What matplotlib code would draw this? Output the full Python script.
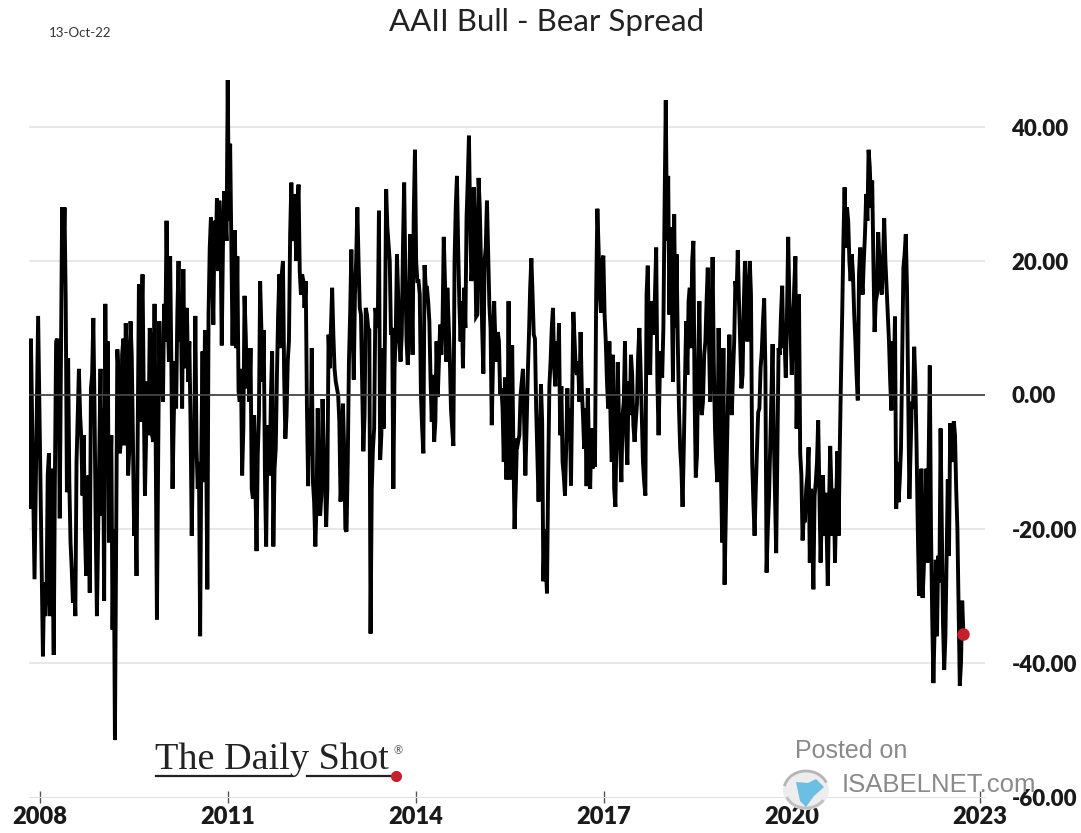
import pandas as pd
import matplotlib
matplotlib.use("Agg")
import matplotlib.pyplot as plt
import matplotlib.dates as mdates
from matplotlib.patches import Ellipse, Polygon, Arc

# weeks counted from the first reading of 2008
weeks_2008 = [-10, -9, -8, -5, -2, 2, 4, 7, 8, 9, 11, 13, 14, 16, 18, 20, 21, 22, 23, 24, 25, 29, 32, 34, 35, 36, 38, 40, 41, 42,
              44, 47, 48, 50, 53, 54, 57, 59, 60, 62, 64, 66, 69, 70, 71, 73, 75, 77, 78, 80, 82, 85, 87, 88, 89, 92, 93, 95, 97, 99,
              101, 103, 105, 107, 108, 110, 112, 115, 118, 119, 120, 122, 124, 126, 127, 129, 133, 135, 136, 137, 139, 142, 144, 147, 148, 149, 151, 153, 155, 156,
              158, 159, 160, 162, 164, 165, 167, 168, 170, 172, 175, 177, 178, 180, 182, 183, 186, 188, 190, 193]
spread_2008 = [6.1, -17, 8.4, -27.5, 11.8, -39, -33, -8.7, -33, -11, -38.8, 8, 8.4, -18.4, 28, 28, 14, -14.5, 5.5, -13, -22, -33, 3.9, -6.5, -15, -6, -27, -12, -29.5, 1,
               11.5, -33, -21, 3.9, -30.7, 13.6, -22, -6, -35, -51.5, 6.8, -8.7, 8.4, -7.5, 10.7, -12, 11, -6.5, -21, -27, 16.5, 18, -15, -6, 2, 8, -6, 13.6, -33.5, 11,
               5, 13.6, 26, 5, 20.7, -14, 5, 20, -2, 18.8, 4, 13, 8, -21, -8.5, 11.8, -36, 6.5, -13, 9.7, -29, 26.5, 10.5, 29.4, 18.5, 29, 7.4, 30.4, 23, 47,
               37.5, 23, 7.4, 24.6, 20.7, 0.6, 3.9, -12, 14.8, 1, 7, -15.5, -3, -23.3, -3, 17, 9.7, -22.6, -4.5, 6.5]
fill_weeks_2008 = [3, 5, 6, 10, 12, 15, 17, 19, 26, 27, 28, 30, 31, 33, 37, 39, 43, 45, 46, 51, 52, 55, 56, 58, 61, 65, 67, 68, 72, 74, 76, 79, 81, 83, 84, 86, 90, 91, 94, 96,
                   98, 100, 102, 104, 106, 109, 111, 113, 114, 116, 117, 121, 123, 125, 128, 130, 131, 132, 134, 138, 140, 141, 143, 145, 146, 150, 152, 154, 157, 161, 163, 166, 169, 171, 173, 174, 176, 179, 181, 184, 185, 187, 189, 191, 192]
fill_spread_2008 = [-28, -30, -12, -25, -12, 5, 5, 20, -26, -31, -26, -10, -3, -3, -20, -22, 3, -2, -20, -18, -2, -8, 8, -15, -20, 3, -7, 6, 6, -8, 6, -15, -5, -4, 10, 0, -6, 10, -7, -8,
                    -10, 0, -1, 8, 12, 5, -4, -2, 12, 8, 12, 8, 2, -4, -9, -8, -14, -10, -8, -7, 12, 22, 19, 26, 20, 24, 22, 27, 26, 19, 7, -1, -5, 9, 7, -1, -14, -13, -9, 10, 2, -12, -8, -12, 0]

weeks_2011 = [194, 197, 199, 202, 204, 206, 209, 211, 215, 216, 218, 220, 221, 223, 226, 229, 231, 233, 235, 238, 240, 243, 245, 248, 250, 252, 255, 259, 261, 264,
              266, 269, 271, 274, 275, 279, 282, 283, 286, 288, 290, 293, 294, 297, 300, 303, 306, 308, 312, 314, 319, 320, 323, 325, 328, 330, 331, 333, 336, 339,
              344, 347, 349, 352, 355, 357, 359, 361, 363, 365, 369, 372, 374, 376, 378, 381, 383, 387, 388, 390, 391, 393, 395, 397]
spread_2011 = [-22.6, 3, 18, 20, -6.5, 5, 31.7, 23, 31.4, 18.4, 18, 13, 17, -13.6, 7, -22.6, -2, -18, -0.6, -19.7, 9, 16, 3.9, 0, -15.9, -1.3, -20.4, 21.7, 2.3, 28,
               13, -8.4, 13, 9.7, -35.6, 13, 27.5, -9.7, -5, 30.7, 22.6, 10, -14, 21, 5, 31.7, 4.5, 24, 36.6, 17, -8.7, 19.4, 14, 2.3, -7, 8, -0.3, 10.5, 23.6, 16,
               -7.6, 32.7, 13.6, 4, 26.5, 38.7, 17, 31, 11.7, 32.4, 3.2, 29, 13.5, -4.5, 14, 9.4, 0, 2.6, -12.6, 14, -12.6, 7.4, -20, -6.5]
fill_weeks_2011 = [195, 196, 198, 200, 201, 203, 205, 207, 208, 210, 212, 213, 214, 217, 219, 222, 224, 225, 227, 228, 230, 232, 234, 236, 237, 239, 241, 242, 244, 246,
                   247, 249, 251, 253, 254, 256, 257, 258, 260, 262, 263, 265, 267, 268, 270, 272, 273, 276, 277, 278, 281, 284, 285, 287, 289, 291, 292, 295, 296, 298,
                   299, 301, 302, 304, 305, 307, 309, 310, 311, 313, 315, 316, 317, 318, 321, 322, 324, 326, 327, 329, 332, 334, 335, 337, 338, 340, 341, 342, 343, 345,
                   346, 348, 350, 351, 353, 354, 356, 358, 360, 362, 364, 366, 367, 368, 370, 371, 373, 375, 379, 380, 382, 384, 385, 386, 389, 392, 394, 396, 398, 399, 400, 401]
fill_spread_2011 = [-11, -8, 12, 7, 18, 3, -3, 8, 24, 24, 30, 20, 28, 15, 17, -2, -2, -9, -13, -16, -16, -17, -15, -8, -12, -14, 4, 10, 9, 2,
                    1, -4, -12, -8, -20, -10, 5, 12, 11, 15, 20, 20, 12, 2, -3, 12, 10, -14, -8, -5, 10, -6, 7, 9, 25, 20, 9, 4, 9, 15,
                    8, 9, 22, 18, 8, 12, 18, 6, 27, 20, 17, 15, 0, -5, 16, 16, 11, -4, 3, -4, 5, 6, 11, 17, 5, 11, 6, -2, -5, 20,
                    28, 22, 8, 14, 16, 10, 32, 26, 20, 25, 12, 28, 20, 10, 20, 22, 21, 10, 8, 5, 8, 1, -2, -10, -10, -10, -8, -14, -7, -6, 0, 2]

weeks_2015 = [402, 404, 407, 409, 412, 415, 417, 419, 422, 424, 427, 429, 432, 434, 437, 439, 442, 444, 447, 450, 452, 455, 456, 458, 462, 464, 467, 469, 473, 474,
              477, 479, 481, 484, 487, 489, 492, 494, 497, 499, 504, 506, 508, 510, 513, 515, 517, 518, 521, 522, 523, 527, 528, 530, 532, 535, 538, 541, 544, 546,
              549, 551, 556, 558, 560, 564, 565, 568, 569, 570, 574, 576, 579, 581, 584, 586, 587, 590, 591, 593, 595, 598]
spread_2015 = [3.9, -12, 9, 20.4, 8.4, -15.9, 1.6, -27.8, -29.6, 1.3, 13, 1.3, 10.7, 1.3, -15, 1, -13.5, 12.4, 3, 9.4, -3, -13.6, 1, -14, -10.7, 27.8, 12.3, 20.8, -2, 8,
               6, -16.7, 4.9, -13, 8, -10.4, 6, -4.5, -1.3, 10, -15, 19.3, 3, 13, 22, -6, 6.5, 2.6, 44, 23, 32.7, 2, 27, 21, -2, -16.7, 11, 16, 23, -12.3,
               14, -3, 19, -1, 20.6, -13, 10, -22, 7, -28.3, 9, -3, 17, 21.6, 1, 13.5, 20, 13.5, 20, -10, -21, -2.6]
fill_weeks_2015 = [403, 405, 406, 408, 410, 411, 413, 414, 416, 418, 420, 421, 423, 425, 426, 428, 430, 431, 433, 435, 436, 438, 440, 441, 443, 445, 446, 448, 449, 451,
                   453, 454, 457, 459, 460, 461, 463, 465, 466, 468, 470, 471, 472, 475, 476, 478, 480, 482, 483, 485, 486, 488, 490, 491, 493, 495, 496, 498, 500, 501,
                   502, 503, 505, 507, 509, 511, 512, 514, 516, 519, 520, 524, 525, 526, 529, 531, 533, 534, 536, 537, 539, 540, 542, 543, 545, 547, 548, 550, 552, 553,
                   554, 555, 557, 559, 561, 562, 563, 566, 567, 571, 572, 573, 575, 577, 578, 580, 582, 583, 585, 588, 589, 592, 594, 596, 597]
fill_spread_2015 = [-4, -5, 3, 16, 15, 9, -2, -9, -8, -4, -20, -25, -12, 5, 10, 4, 8, 3, -6, -10, -12, -8, -7, -2, 0, 8, 4, 5, -1, 1,
                    -8, -2, -8, -5, -11, -5, 15, 22, 15, 20, 12, 8, 2, -4, -10, -14, -5, -4, -8, -3, -1, -6, 2, -3, 3, -7, -4, 6, 4, -3,
                    -10, -13, 15, 8, 14, 9, 15, 2, 3, 10, 28, 12, 25, 15, 10, 8, -8, -11, -8, 2, 3, 14, 7, 20, 0, -9, 5, 0, -1, 6,
                    8, 14, 8, 10, 5, -5, -10, -3, -12, -18, -8, 1, 2, 3, 8, 15, 14, 8, 3, 14, 8, 15, -16, -14, -8]

weeks_2019 = [601, 603, 605, 607, 610, 613, 615, 618, 621, 623, 626, 629, 630, 632, 633, 635, 637, 640, 641, 644, 646, 648, 650, 654, 656, 658, 662, 664, 665, 667,
              670, 673, 675, 676, 681, 683, 685, 688, 690, 693, 695, 698, 701, 703, 706, 709, 712, 713, 716, 719, 721, 724, 726, 728, 732, 734, 735, 738, 741, 744,
              746, 750, 753, 755, 756, 758, 761, 764, 766, 768, 769]
spread_2019 = [6.5, 14.4, -26.5, -15.5, 7.6, -23.6, 7, 16.3, 2.6, 23.6, 3, 20.7, -5, 15, -8.7, -21.7, -19, -7.8, -25, -29, -13, -3.8, -25, -14.6, -28.5, -7.6, -25, -8.4, -21, 2.6,
               31, 26, 17, 21, -0.8, 22, 15, 30, 36.6, 32, 9.4, 24.3, 15, 26.4, 12, -2.3, 11.7, -17, -12.6, 19, 24, -15.5, -1, 7.2, -30, -11, -30.3, -11, 4.4, -43,
               -24.6, -5, -41, -24, -12.6, -4.2, -3.9, -20, -43.4, -30.7, -35.6]
fill_weeks_2019 = [599, 600, 602, 604, 606, 608, 609, 611, 612, 614, 616, 617, 619, 620, 622, 624, 625, 627, 628, 631, 634, 636, 638, 639, 642, 643, 645, 647, 649, 651,
                   652, 653, 655, 657, 659, 660, 661, 663, 666, 668, 669, 671, 672, 674, 677, 678, 679, 680, 682, 684, 686, 687, 689, 691, 692, 694, 696, 697, 699, 700,
                   702, 704, 705, 707, 708, 710, 711, 714, 715, 717, 718, 720, 722, 723, 725, 727, 729, 730, 731, 733, 736, 737, 739, 740, 742, 743, 745, 747, 748, 749,
                   751, 752, 754, 757, 759, 760, 762, 763, 765, 767]
fill_spread_2019 = [-2, 4, 11, 4, -20, -8, 0, -6, -15, -8, 6, 12, 7, 8, 12, 14, 9, 10, 16, 6, -12, -18, -14, -12, -14, -20, -15, -10, -14, -18,
                    -12, -21, -20, -17, -14, -21, -14, -16, -8, 12, 23, 22, 28, 20, 18, 12, 8, 3, 18, 18, 20, 24, 26, 34, 28, 20, 14, 15, 20, 16,
                    20, 20, 16, 8, 2, 8, 3, -10, -16, -8, 5, 21, 16, 0, -8, -2, 2, -8, -20, -23, -26, -18, -25, -10, -20, -33, -35, -36, -24, -28,
                    -20, -34, -36, -24, -10, -8, -6, -14, -32, -40]

year_ticks = ["2008", "2011", "2014", "2017", "2020", "2023"]
value_ticks = [40, 20, 0, -20, -40, -60]

df = pd.DataFrame({
    'week': weeks_2008 + fill_weeks_2008 + weeks_2011 + fill_weeks_2011 + weeks_2015 + fill_weeks_2015 + weeks_2019 + fill_weeks_2019,
    'spread': spread_2008 + fill_spread_2008 + spread_2011 + fill_spread_2011 + spread_2015 + fill_spread_2015 + spread_2019 + fill_spread_2019,
})
df = df.sort_values('week', kind='stable').reset_index(drop=True)
start = pd.Timestamp("2008-01-03")
df['date'] = start + pd.to_timedelta(df['week'] * 7, unit="D")

W, H = 1081, 833
plt.rcParams['font.family'] = ['Lato', 'DejaVu Sans']

fig = plt.figure(figsize=(W / 100, H / 100), dpi=100)
ax = fig.add_axes([29 / W, 1 - 797 / H, 956 / W, 723.6 / H])

ax.plot(df['date'], df['spread'], color='black', lw=2.8, solid_joinstyle='miter', zorder=3)
ax.plot(df['date'].iloc[-1], df['spread'].iloc[-1], 'o', color='#c4202e', ms=8, zorder=4)

ax.axhline(0, color='#444444', lw=1.3, zorder=4)
for v in value_ticks:
    if v != 0 and v != -60:
        ax.axhline(v, color='#e2e2e2', lw=1.1, zorder=1)

ax.set_ylim(-60, 48)
ax.set_xlim(start - pd.Timedelta(weeks=9.6), start + pd.Timedelta(weeks=787))
ax.set_xticks([pd.Timestamp(y + "-01-01") for y in year_ticks])
ax.xaxis.set_major_formatter(mdates.DateFormatter('%Y'))
ax.set_yticks(value_ticks)
ax.set_yticklabels(['%.2f' % v for v in value_ticks], ha='left')
ax.yaxis.tick_right()

ax.tick_params(axis='x', direction='inout', length=9, width=1, color='#555555', labelsize=17, pad=2)
ax.tick_params(axis='y', length=0, labelsize=16, pad=19)
for label in ax.get_xticklabels() + ax.get_yticklabels():
    label.set_fontweight('heavy')
    label.set_color('#1a1a1a')

for side in ['top', 'left', 'right']:
    ax.spines[side].set_visible(False)
ax.spines['bottom'].set_color('#e2e2e2')

def px(x, y):
    return x / W, 1 - y / H

# title and date stamp
fig.text(*px(547, 22), 'AAII Bull - Bear Spread', ha='center', va='center', fontsize=22.5, color='#222222')
fig.text(*px(49, 33), '13-Oct-22', ha='left', va='center', fontsize=9.5, color='#333333')

# The Daily Shot logo
fig.text(*px(155, 760), 'The Daily Shot', ha='left', va='center', fontsize=27.5, family='Liberation Serif', color='#222222')
fig.text(*px(394, 751), '®', ha='left', va='center', fontsize=8, color='#555555')
fig.add_artist(plt.Line2D([156 / W, 292 / W], [1 - 776 / H] * 2, color='#222222', lw=1.6))
fig.add_artist(plt.Line2D([307 / W, 394 / W], [1 - 776 / H] * 2, color='#222222', lw=1.6))
fig.add_artist(plt.Line2D([396 / W], [1 - 776 / H], marker='o', ms=7, color='#c4202e'))

# Posted on ISABELNET mark
fig.text(*px(795, 751), 'Posted on', ha='left', va='center', fontsize=18, family='Liberation Sans', color='#8a8a8a')
fig.text(*px(842, 785), 'ISABELNET.com', ha='left', va='center', fontsize=18.5, family='Liberation Sans', color='#8a8a8a')
logo = fig.add_axes([780 / W, 1 - 813 / H, 52 / W, 46 / H])
logo.set_xlim(0, 52)
logo.set_ylim(0, 46)
logo.axis('off')
logo.patch.set_alpha(0)
logo.add_patch(Ellipse((26, 23), 46, 40, fc='#ededed', ec='none'))
logo.add_patch(Arc((26, 23), 44, 38, theta1=20, theta2=170, color='#b5b5b5', lw=2))
logo.add_patch(Arc((26, 23), 42, 36, theta1=200, theta2=330, color='#c0c0c0', lw=2))
logo.add_patch(Polygon([(16, 31), (28, 30), (36, 34), (44, 26), (34, 17), (26, 6), (20, 12)], fc='#6cbfe3', ec='none'))

fig.savefig('out.png', dpi=100)
